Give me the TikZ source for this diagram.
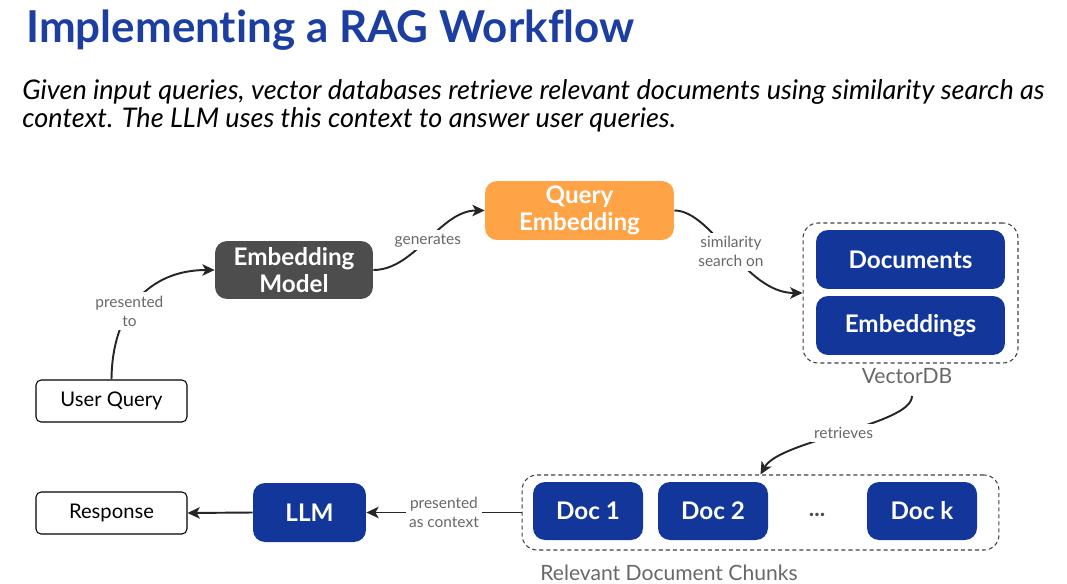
\documentclass[tikz,border=0pt]{standalone}
\usepackage{fontspec}
\setmainfont{Lato}[Ligatures=NoCommon]
\usepackage{tikz}
\usetikzlibrary{positioning, arrows.meta, calc}
\definecolor{ragblue}{RGB}{18,54,154}
\definecolor{titleblue}{RGB}{27,62,160}
\definecolor{ragorange}{RGB}{255,163,71}
\definecolor{raggray}{RGB}{77,77,77}
\definecolor{labelgray}{RGB}{104,104,104}

\begin{document}
\begin{tikzpicture}[x=0.02cm, y=-0.02cm,
  box/.style={rounded corners=0.24cm, text=white, align=center, inner sep=0pt,
    font=\fontsize{13.8}{15.3}\selectfont\bfseries},
  bluebox/.style={box, fill=ragblue},
  plainbox/.style={draw, rounded corners=0.1cm, line width=0.6pt, minimum width=3.02cm,
    minimum height=0.84cm, inner sep=0pt, font=\fontsize{11.5}{13}\selectfont},
  dbgroup/.style={draw=black!75, dash pattern=on 2.3pt off 1.7pt, line width=0.6pt,
    rounded corners=0.3cm, inner sep=0pt},
  edgelabel/.style={fill=white, text=labelgray, align=center, inner sep=2pt,
    font=\fontsize{8.8}{10.8}\selectfont},
  link/.style={line width=1.1pt, black!85, -{Stealth[length=7pt, width=6.5pt, inset=1.8pt]}},
  ]
\useasboundingbox (0,0) rectangle (1067,584);

% Heading
\node[anchor=base west, inner sep=0pt, text=titleblue, font=\fontsize{25}{30}\selectfont\bfseries] (title) at (26,43) {Implementing a RAG Workflow};
\node[anchor=base west, inner sep=0pt, font=\fontsize{15.4}{18}\selectfont\itshape] (subA) at (22,100) {Given input queries, vector databases retrieve relevant documents using similarity search as};
\node[anchor=base west, inner sep=0pt, font=\fontsize{15.4}{18}\selectfont\itshape] (subB) at (22,128) {context. The LLM uses this context to answer user queries.};

% Query side
\node[plainbox] (uq) at (111.5,401) {User Query};
\node[box, fill=raggray, minimum width=3.16cm, minimum height=1.16cm] (em) at (294,270) {Embedding\\Model};
\node[box, fill=ragorange, minimum width=3.78cm, minimum height=1.18cm] (qe) at (579.5,210.5) {Query\\Embedding};

% VectorDB
\node[dbgroup, minimum width=4.3cm, minimum height=2.8cm] (vdb) at (910.5,293) {};
\node[bluebox, minimum width=3.78cm, minimum height=1.18cm] (docs) at (910.5,259.5) {Documents};
\node[bluebox, minimum width=3.78cm, minimum height=1.18cm] (embs) at (910.5,325.5) {Embeddings};
\node[text=labelgray, font=\fontsize{12}{14}\selectfont] (vdblabel) at (907,376) {VectorDB};
\coordinate (vdbout) at (912,396);

% Relevant chunks
\node[dbgroup, minimum width=9.54cm, minimum height=1.5cm] (chunks) at (760.5,512.5) {};
\node[bluebox, minimum width=2.2cm, minimum height=1.16cm] (doc1) at (588,511) {Doc 1};
\node[bluebox, minimum width=2.2cm, minimum height=1.16cm] (doc2) at (713,511) {Doc 2};
\node[text=raggray, font=\fontsize{13}{15}\selectfont\bfseries] (dots) at (817,515) {...};
\node[bluebox, minimum width=2.2cm, minimum height=1.16cm] (dock) at (922,511) {Doc k};
\node[anchor=base, text=labelgray, font=\fontsize{12}{14}\selectfont] (chunklabel) at (669,580) {Relevant Document Chunks};

% Answer side
\node[bluebox, minimum width=2.26cm, minimum height=1.18cm] (llm) at (309.5,512.5) {LLM};
\node[plainbox] (resp) at (111.5,513) {Response};

% Connectors
\draw[link] (uq.north) .. controls (112,310) and (150,270) .. node[edgelabel, pos=0.4] (lblA) {presented\\to} (em.west);
\draw[link] (em.east) .. controls (415,270) and (440,210.5) .. node[edgelabel] (lblB) {generates} (qe.west);
\draw[link] (qe.east) .. controls (712,210.5) and (745,293) .. node[edgelabel] (lblC) {similarity\\search on} (vdb.west);
\draw[link] (vdbout) .. controls (912,425) and (780,440) .. node[edgelabel] (lblD) {retrieves} (chunks.north);
\draw[link] (chunks.west) -- node[edgelabel] (lblE) {presented\\as context} (llm.east);
\draw[link] (llm.west) -- (resp.east);
\end{tikzpicture}
\end{document}
